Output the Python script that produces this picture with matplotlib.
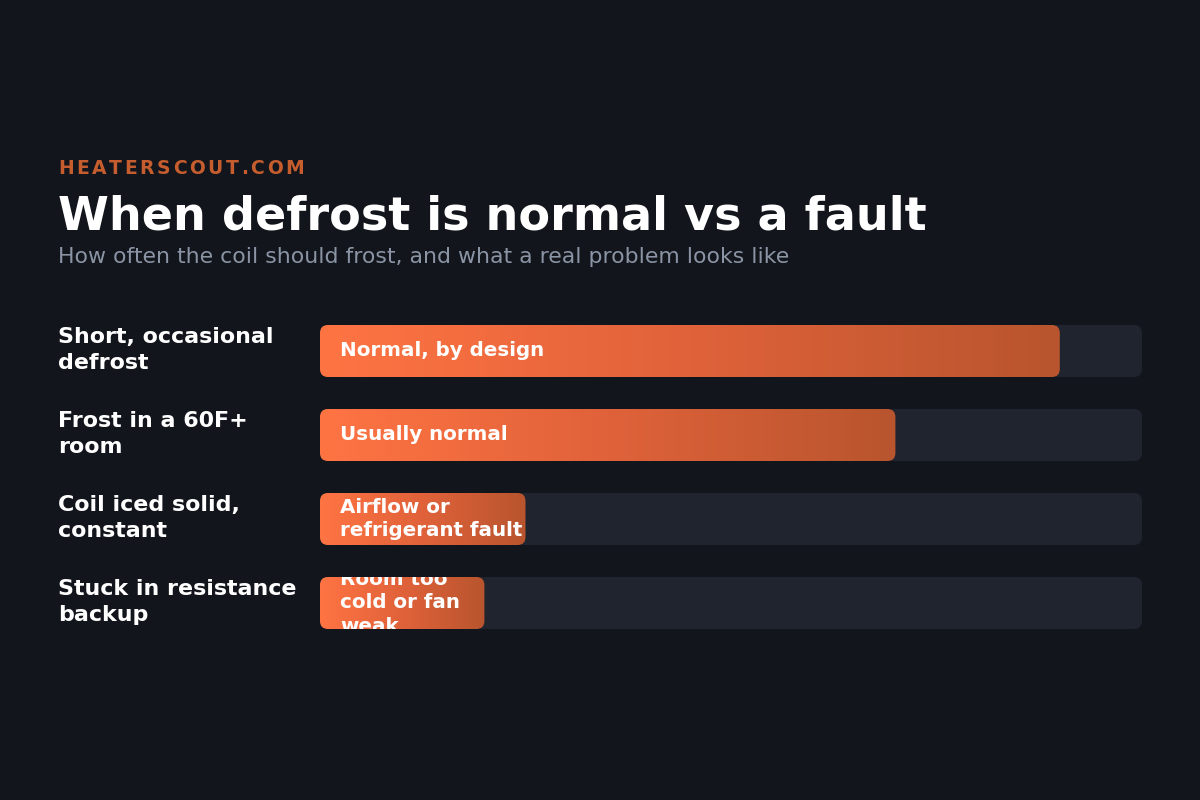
import matplotlib
matplotlib.use("Agg")
import matplotlib.pyplot as plt
import numpy as np
from matplotlib.patches import FancyBboxPatch
from matplotlib.colors import LinearSegmentedColormap
from matplotlib.transforms import ScaledTranslation, Bbox, TransformedBbox

# ------------------------------------------------------------------
# DATA
# ------------------------------------------------------------------
categories = [
    "Short, occasional\ndefrost",
    "Frost in a 60F+\nroom",
    "Coil iced solid,\nconstant",
    "Stuck in resistance\nbackup",
]
values = [90, 70, 25, 20]          # share of the track (0-100)
bar_labels = [
    "Normal, by design",
    "Usually normal",
    "Airflow or\nrefrigerant fault",
    "Room too\ncold or fan\nweak",
]
MAX_VALUE = 100

BRAND = "HEATERSCOUT.COM"
TITLE = "When defrost is normal vs a fault"
SUBTITLE = "How often the coil should frost, and what a real problem looks like"

# ------------------------------------------------------------------
# STYLE
# ------------------------------------------------------------------
BG = "#12151b"
TRACK = "#1f242e"
BRAND_COLOR = "#c65d2e"
SUB_COLOR = "#8a94a4"
GRAD = LinearSegmentedColormap.from_list("heat", ["#ff7443", "#e0623a", "#b8552e"])

W, H, DPI = 1200, 800, 100
BAR_H = 52 / 84        # bar height in row units
PX_X = 822 / MAX_VALUE  # pixels per x unit
PX_Y = 84               # pixels per row
RADIUS_PX = 8

plt.rcParams["font.family"] = ["DejaVu Sans"]

fig = plt.figure(figsize=(W / DPI, H / DPI), dpi=DPI, facecolor=BG)

# header ----------------------------------------------------------
renderer = fig.canvas.get_renderer()
x_px = 58
tracking = 2.6
for ch in BRAND:
    t = fig.text(x_px / W, 1 - 174 / H, ch, color=BRAND_COLOR, fontsize=13.5,
                 fontweight="bold", va="baseline", ha="left")
    x_px += t.get_window_extent(renderer).width + tracking

fig.text(58 / W, 1 - 230 / H, TITLE, color="white", fontsize=33.2,
         fontweight="bold", va="baseline", ha="left")
fig.text(58 / W, 1 - 263 / H, SUBTITLE, color=SUB_COLOR, fontsize=15.8,
         va="baseline", ha="left")

# bars ------------------------------------------------------------
ax = fig.add_axes([320 / W, 1 - 645 / H, 822 / W, 336 / H])
ax.set_facecolor("none")
ax.axis("off")
ax.set_xlim(0, MAX_VALUE)
ax.set_ylim(len(categories) - 0.5, -0.5)

r_x = RADIUS_PX / PX_X
aspect = PX_X / PX_Y
label_offset = ScaledTranslation(20 / DPI, 0, fig.dpi_scale_trans)
grad = np.linspace(0, 1, 256).reshape(1, -1)

for i, (cat, val, lab) in enumerate(zip(categories, values, bar_labels)):
    y0 = i - BAR_H / 2
    track = FancyBboxPatch((0, y0), MAX_VALUE, BAR_H,
                           boxstyle=f"round,pad=0,rounding_size={r_x}",
                           mutation_aspect=aspect, facecolor=TRACK,
                           edgecolor="none", zorder=1)
    ax.add_patch(track)

    bar = FancyBboxPatch((0, y0), val, BAR_H,
                         boxstyle=f"round,pad=0,rounding_size={r_x}",
                         mutation_aspect=aspect, facecolor="none",
                         edgecolor="none", zorder=1)
    ax.add_patch(bar)
    im = ax.imshow(grad, cmap=GRAD, aspect="auto", zorder=2,
                   extent=[0, val, y0 + BAR_H, y0], interpolation="bicubic")
    im.set_clip_path(bar)

    txt = ax.text(0, i, lab, color="white", fontsize=14.35, fontweight="bold",
                  va="center", ha="left", linespacing=1.3, zorder=3,
                  transform=ax.transData + label_offset)
    txt.set_clip_on(True)
    txt.set_clip_box(TransformedBbox(Bbox([[0, y0], [val, y0 + BAR_H]]),
                                     ax.transData))

    # row label on the left
    fig.text(58 / W, 1 - (350 + PX_Y * i) / H, cat, color="white",
             fontsize=15.9, fontweight="bold", va="center", ha="left",
             linespacing=1.35)

ax.set_xlim(0, MAX_VALUE)
ax.set_ylim(len(categories) - 0.5, -0.5)

fig.savefig("out.png", dpi=DPI, facecolor=BG)
